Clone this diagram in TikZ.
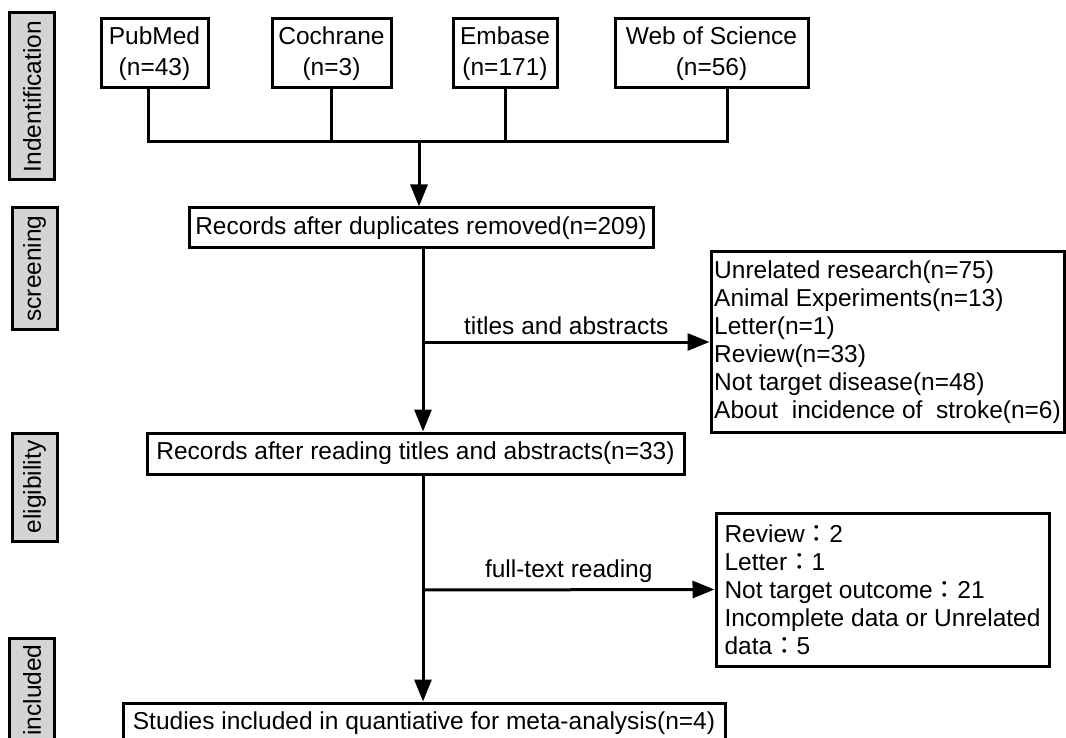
\documentclass[tikz,border=0pt]{standalone}
\usepackage{fontspec}
\setmainfont{Liberation Sans}
\newfontfamily\cjk{Noto Sans CJK JP}
\usetikzlibrary{
    arrows.meta,
    positioning
}
\newcommand{\fcolon}{{\cjk ：}}

\begin{document}
\begin{tikzpicture}[
        x=1pt, y=-1pt,
        >={Triangle[length=22pt,width=17pt]},
        line width=3pt,
        font=\fontsize{24.5}{28}\selectfont,
        box/.style={
            draw,
            inner sep=0pt,
            align=center
        },
        source/.style={
            box,
            minimum height=69pt,
            font=\fontsize{24.5}{31}\selectfont
        },
        stage/.style={
            draw,
            fill=black!17,
            rotate=90,
            inner sep=0pt,
            minimum height=45pt
        },
        listbox/.style={
            draw,
            align=left,
            inner sep=0pt
        }
    ]
    \clip (0,0) rectangle (1066,738);

    % stages
    \node[stage, minimum width=167pt] (ident) at (32,96.5) {Indentification};
    \node[stage, minimum width=122pt] (screen) at (34.5,268.5) {screening};
    \node[stage, minimum width=108pt] (elig) at (34.5,487) {eligibility};
    \node[stage, minimum width=104pt] (incl) at (32,690) {included};

    % databases
    \node[source, minimum width=107pt] (pubmed) at (154.5,53.5) {PubMed\\(n=43)};
    \node[source, minimum width=119pt] (cochrane) at (331.5,53.5) {Cochrane\\(n=3)};
    \node[source, minimum width=104pt] (embase) at (505,53.5) {Embase\\(n=171)};
    \node[source, minimum width=193pt] (wos) at (711.5,53.5) {Web of Science\\(n=56)};

    % main flow
    \node[box, minimum width=464pt, minimum height=40pt] (dup) at (421,228) {Records after duplicates removed(n=209)};
    \node[box, minimum width=537pt, minimum height=41pt] (read) at (415.5,453.5) {Records after reading titles and abstracts(n=33)};
    \node[box, minimum width=602pt, minimum height=40pt] (final) at (424,723) {Studies included in quantiative for meta-analysis(n=4)};

    % excluded
    \node[listbox, minimum width=353pt, minimum height=180pt] (excl1) at (887.5,342) {Unrelated research(n=75)\\
        Animal Experiments(n=13)\\
        Letter(n=1)\\
        Review(n=33)\\
        Not target disease(n=48)\\
        About\ \ incidence of\ \ stroke(n=6)};
    \node[listbox, minimum width=333pt, minimum height=153pt] (excl2) at (882.5,589.5) {Review\fcolon 2\\
        Letter\fcolon 1\\
        Not target outcome\fcolon 21\\
        Incomplete data or Unrelated\\
        data\fcolon 5};

    \coordinate (hubL) at (148,142);
    \coordinate (hubR) at (727,142);
    \coordinate (hub) at (419,142);
    \coordinate (split1) at (423,342);
    \coordinate (split2) at (423,590);

    \draw (pubmed.south -| hubL) -- (hubL) -- (hubR) -- (wos.south -| hubR);
    \draw (cochrane.south) -- (cochrane.south |- hub);
    \draw (embase.south) -- (embase.south |- hub);
    \draw[->] (hub) -- (hub |- dup.north);

    \draw[->] (dup.south -| split1) -- (read.north -| split1);
    \draw[->] (split1) -- (excl1.west) node[midway, above=2pt] {titles and abstracts};
    \draw[->] (read.south -| split2) -- (final.north -| split2);
    \draw[->] (split2) -- (excl2.west) node[midway, above=2pt] {full-text reading};
\end{tikzpicture}
\end{document}
